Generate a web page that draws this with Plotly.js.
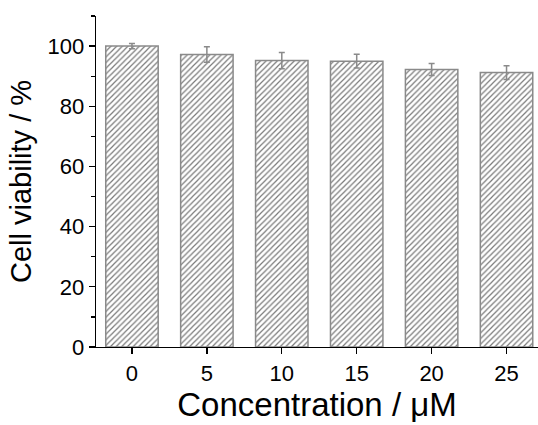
<!DOCTYPE html>
<html>
<head>
<meta charset="utf-8">
<script src="https://cdn.plot.ly/plotly-3.0.1.min.js"></script>
<style>
  html, body { margin: 0; padding: 0; background: #fff; }
  #chart { width: 538px; height: 425px; }
</style>
</head>
<body>
<div id="chart"></div>
<script>
// Cell viability after treatment at each concentration (mean ± SD)
const concentrations = ['0', '5', '10', '15', '20', '25'];
const viability = [100.0, 97.2, 95.2, 95.0, 92.2, 91.2];
const viabilityErr = [0.9, 2.6, 2.7, 2.3, 2.0, 2.3];
const yTicks = [0, 20, 40, 60, 80, 100];

const font = '"Liberation Sans", Arial, sans-serif';

const trace = {
  type: 'bar',
  x: concentrations,
  y: viability,
  width: 0.7,
  marker: {
    color: '#ffffff',
    line: { color: '#8a8a8a', width: 1.5 },
    pattern: { shape: '/', fgcolor: '#7a7a7a', bgcolor: '#ffffff', size: 4, solidity: 0.3 }
  },
  error_y: {
    type: 'data',
    array: viabilityErr,
    visible: true,
    color: '#8a8a8a',
    thickness: 1.5,
    width: 3
  },
  hoverinfo: 'skip'
};

const layout = {
  width: 538,
  height: 425,
  margin: { l: 96, r: 0, t: 16, b: 78 },
  paper_bgcolor: '#ffffff',
  plot_bgcolor: '#ffffff',
  showlegend: false,
  font: { family: font, color: '#000' },
  xaxis: {
    type: 'category',
    range: [-0.48, 5.42],
    showline: true,
    linecolor: '#000',
    linewidth: 1.3,
    ticks: 'outside',
    ticklen: 6,
    tickwidth: 1.3,
    tickcolor: '#000',
    tickfont: { family: font, size: 22, color: '#000' },
    showgrid: false,
    zeroline: false,
    title: { text: 'Concentration / μM', font: { family: font, size: 33, color: '#000' }, standoff: 2 }
  },
  yaxis: {
    range: [0, 110],
    tickvals: yTicks,
    showline: true,
    linecolor: '#000',
    linewidth: 1.3,
    ticks: 'outside',
    ticklen: 6,
    tickwidth: 1.3,
    tickcolor: '#000',
    minor: { dtick: 10, ticks: 'outside', ticklen: 4, tickwidth: 1.3, tickcolor: '#000', showgrid: false },
    tickfont: { family: font, size: 22, color: '#000' },
    showgrid: false,
    zeroline: false,
    title: { text: 'Cell viability / %', font: { family: font, size: 29, color: '#000' }, standoff: 7 }
  }
};

Plotly.newPlot('chart', [trace], layout, { displayModeBar: false, staticPlot: true });
</script>
</body>
</html>
